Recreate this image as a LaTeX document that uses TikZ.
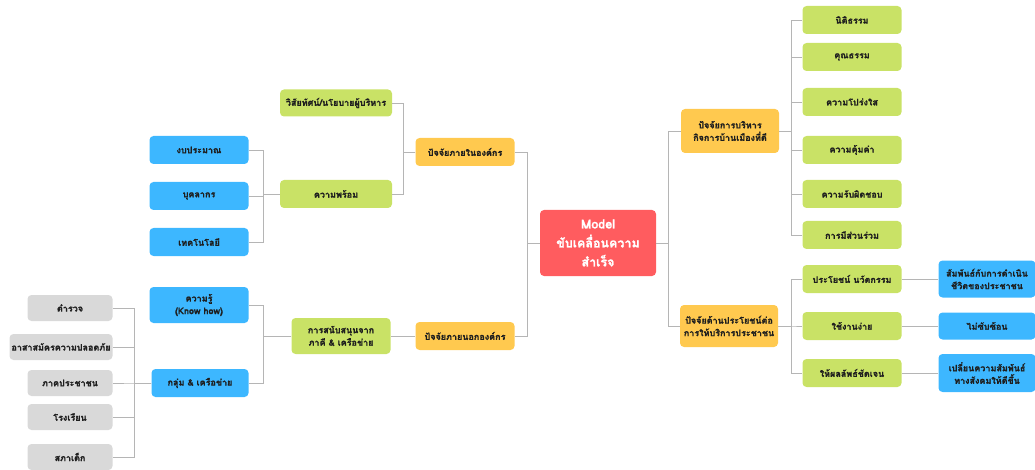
\documentclass[tikz,border=0pt]{standalone}
\usepackage{fontspec}
\usepackage{xcolor}
\newfontfamily\thaifont[Script=Thai,BoldFeatures={FakeBold=1.2}]{Loma}
\definecolor{modelred}{HTML}{FF5C5F}
\definecolor{factoryellow}{HTML}{FFC94F}
\definecolor{leafgreen}{HTML}{C9E266}
\definecolor{leafblue}{HTML}{3DB7FF}
\definecolor{leafgray}{HTML}{D9D9D9}
\definecolor{linkgray}{HTML}{B5B5B5}
\definecolor{inkdark}{HTML}{1E1E1E}

\begin{document}
\begin{tikzpicture}[x=1pt,y=-1pt,
	box/.style={rounded corners=4pt,align=center,inner sep=1pt,
		font=\thaifont\bfseries\fontsize{9}{12.5}\selectfont,text=inkdark},
	modelbox/.style={box,fill=modelred,minimum width=116pt,minimum height=66pt,
		text=white,font=\thaifont\bfseries\fontsize{12.5}{19}\selectfont},
	factorbox/.style={box,fill=factoryellow,minimum width=99pt,minimum height=28pt},
	greenbox/.style={box,fill=leafgreen,minimum width=99pt,minimum height=28pt},
	bluebox/.style={box,fill=leafblue,minimum width=99pt,minimum height=28pt},
	graybox/.style={box,fill=leafgray,minimum width=85pt,minimum height=26pt},
	link/.style={draw=linkgray,line width=0.8pt}]
	\useasboundingbox (0,0) rectangle (1035,470);

	% centre
	\node[modelbox] (model) at (598,243) {Model\\ขับเคลื่อนความ\\สำเร็จ};

	% left side
	\node[factorbox] (inner) at (465,152) {ปัจจัยภายในองค์กร};
	\node[factorbox] (outer) at (465,336) {ปัจจัยภายนอกองค์กร};
	\node[greenbox,minimum width=112pt,minimum height=27pt] (vision) at (336,103) {วิสัยทัศน์/นโยบายผู้บริหาร};
	\node[greenbox,minimum width=112pt] (ready) at (336,194) {ความพร้อม};
	\node[greenbox,minimum height=36pt] (support) at (341,336) {การสนับสนุนจาก\\ภาคี \& เครือข่าย};
	\node[bluebox] (budget) at (199,150) {งบประมาณ};
	\node[bluebox] (staff) at (199,196) {บุคลากร};
	\node[bluebox] (tech) at (199,242) {เทคโนโลยี};
	\node[bluebox,minimum height=36pt] (knowhow) at (199,305) {ความรู้\\(Know how)};
	\node[bluebox,minimum width=97pt] (network) at (200,383) {กลุ่ม \& เครือข่าย};
	\node[graybox] (police) at (70,308) {ตำรวจ};
	\node[graybox,minimum width=103pt] (volunteer) at (61,347) {อาสาสมัครความปลอดภัย};
	\node[graybox] (citizen) at (70,383) {ภาคประชาชน};
	\node[graybox] (school) at (70,417) {โรงเรียน};
	\node[graybox] (council) at (70,457) {สภาเด็ก};

	% right side
	\node[factorbox,minimum width=98pt,minimum height=44pt] (govern) at (730,131) {ปัจจัยการบริหาร\\กิจการบ้านเมืองที่ดี};
	\node[factorbox,minimum width=98pt,minimum height=42pt] (service) at (729,326) {ปัจจัยด้านประโยชน์ต่อ\\การให้บริการประชาชน};
	\node[greenbox] (law) at (852,20) {นิติธรรม};
	\node[greenbox] (moral) at (852,57) {คุณธรรม};
	\node[greenbox] (clear) at (852,102) {ความโปร่งใส};
	\node[greenbox] (worth) at (852,150) {ความคุ้มค่า};
	\node[greenbox] (duty) at (852,194) {ความรับผิดชอบ};
	\node[greenbox] (share) at (852,235) {การมีส่วนร่วม};
	\node[greenbox] (benefit) at (852,279) {ประโยชน์ นวัตกรรม};
	\node[greenbox] (easy) at (852,326) {ใช้งานง่าย};
	\node[greenbox] (result) at (852,373) {ให้ผลลัพธ์ชัดเจน};
	\node[bluebox,minimum width=97pt,minimum height=37pt] (life) at (987,279) {สัมพันธ์กับการดำเนิน\\ชีวิตของประชาชน};
	\node[bluebox,minimum width=97pt,minimum height=27pt] (simple) at (987,326) {ไม่ซับซ้อน};
	\node[bluebox,minimum width=97pt,minimum height=38pt] (social) at (987,373) {เปลี่ยนความสัมพันธ์\\ทางสังคมให้ดีขึ้น};

	% connectors
	\foreach \kid in {inner,outer}
		\draw[link] (model.west) -- ++(-12,0) |- (\kid.east);
	\foreach \kid in {vision,ready}
		\draw[link] (inner.west) -- ++(-12,0) |- (\kid.east);
	\foreach \kid in {budget,staff,tech}
		\draw[link] (ready.west) -- ++(-16,0) |- (\kid.east);
	\draw[link] (outer.west) -- (support.east);
	\foreach \kid in {knowhow,network}
		\draw[link] (support.west) -- ++(-28,0) |- (\kid.east);
	\foreach \kid in {police,volunteer,citizen,school,council}
		\draw[link] (network.west) -- ++(-17,0) |- (\kid.east);
	\foreach \kid in {govern,service}
		\draw[link] (model.east) -- ++(12,0) |- (\kid.west);
	\foreach \kid in {law,moral,clear,worth,duty,share}
		\draw[link] (govern.east) -- ++(12,0) |- (\kid.west);
	\foreach \kid in {benefit,easy,result}
		\draw[link] (service.east) -- ++(13,0) |- (\kid.west);
	\draw[link] (benefit.east) -- (life.west);
	\draw[link] (easy.east) -- (simple.west);
	\draw[link] (result.east) -- (social.west);
\end{tikzpicture}
\end{document}
